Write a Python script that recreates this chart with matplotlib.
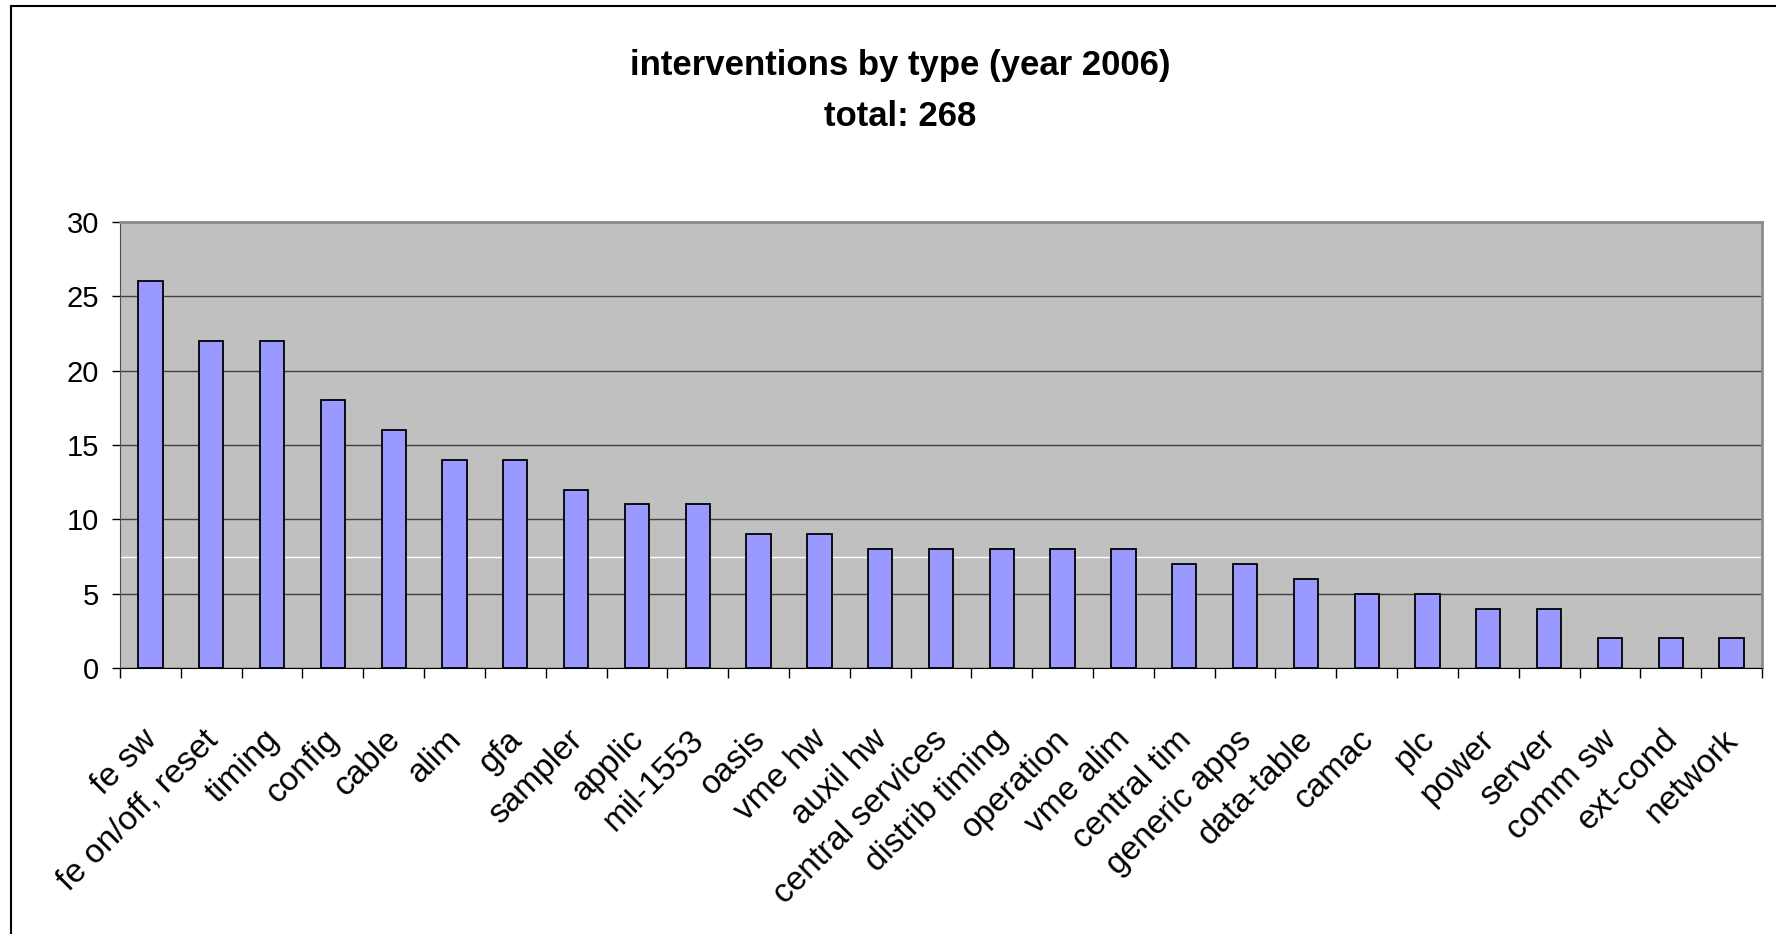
"""
Bar chart of interventions by type for 2006.
"""
import matplotlib
matplotlib.use("Agg")
import matplotlib.pyplot as plt
import matplotlib.transforms as mtransforms
from matplotlib.patches import Rectangle
import numpy as np


categories = [
    "fe sw", "fe on/off, reset", "timing", "config", "cable", "alim", "gfa",
    "sampler", "applic", "mil-1553", "oasis", "vme hw", "auxil hw",
    "central services", "distrib timing", "operation", "vme alim",
    "central tim", "generic apps", "data-table", "camac", "plc", "power",
    "server", "comm sw", "ext-cond", "network",
]
counts = [26, 22, 22, 18, 16, 14, 14, 12, 11, 11, 9, 9, 8, 8, 8, 8, 8,
          7, 7, 6, 5, 5, 4, 4, 2, 2, 2]
y_ticks = [0, 5, 10, 15, 20, 25, 30]
title_lines = ["interventions by type (year 2006)", "total: 268"]

plt.rcParams["font.family"] = ["Liberation Sans", "DejaVu Sans"]

W, H = 1776, 934
fig = plt.figure(figsize=(W / 100, H / 100), dpi=100)

# chart frame (open on the right and bottom edges)
fig.patches.append(Rectangle((11 / W, -0.05), 1.2, 1 - 6 / H + 0.05,
                             transform=fig.transFigure, fill=False,
                             edgecolor="#000000", linewidth=1.5))

ax = fig.add_axes([120 / W, 1 - 668 / H, (1762 - 120) / W, (668 - 222) / H])
ax.set_facecolor("#C0C0C0")

x = np.arange(len(categories))
ax.bar(x, counts, width=0.4, color="#9999FF", edgecolor="#000000",
       linewidth=1.3, zorder=3)

ax.set_xlim(-0.5, len(categories) - 0.5)
ax.set_ylim(0, 30)
ax.set_yticks(y_ticks)
ax.yaxis.grid(True, color="#404040", linewidth=1.0, zorder=1)
ax.set_axisbelow(True)
ax.axhline(7.5, color="white", linewidth=1.0, zorder=2)

ax.tick_params(axis="y", direction="out", length=6, width=1, color="#000000",
               labelsize=21, pad=9)
# tick marks sit on category boundaries, labels are drawn separately
ax.set_xticks(np.arange(len(categories) + 1) - 0.5)
ax.set_xticklabels([])
ax.tick_params(axis="x", direction="out", length=7, width=1, color="#000000")

for side in ("top", "right"):
    ax.spines[side].set_color("#8C8C8C")
    ax.spines[side].set_linewidth(2)
ax.spines["left"].set_color("#505050")
ax.spines["bottom"].set_color("#000000")

offset = mtransforms.ScaledTranslation(8 / 100, -73 / 100, fig.dpi_scale_trans)
for xi, label in zip(x, categories):
    ax.text(xi, 0, label, transform=ax.get_xaxis_transform() + offset,
            rotation=45, rotation_mode="anchor", ha="right", va="baseline",
            fontsize=24)

fig.text(900 / W, 1 - 65 / H, title_lines[0], ha="center", va="center",
         fontsize=25, fontweight="bold")
fig.text(900 / W, 1 - 116 / H, title_lines[1], ha="center", va="center",
         fontsize=25, fontweight="bold")

fig.savefig("out.png", dpi=100)
plt.close(fig)
